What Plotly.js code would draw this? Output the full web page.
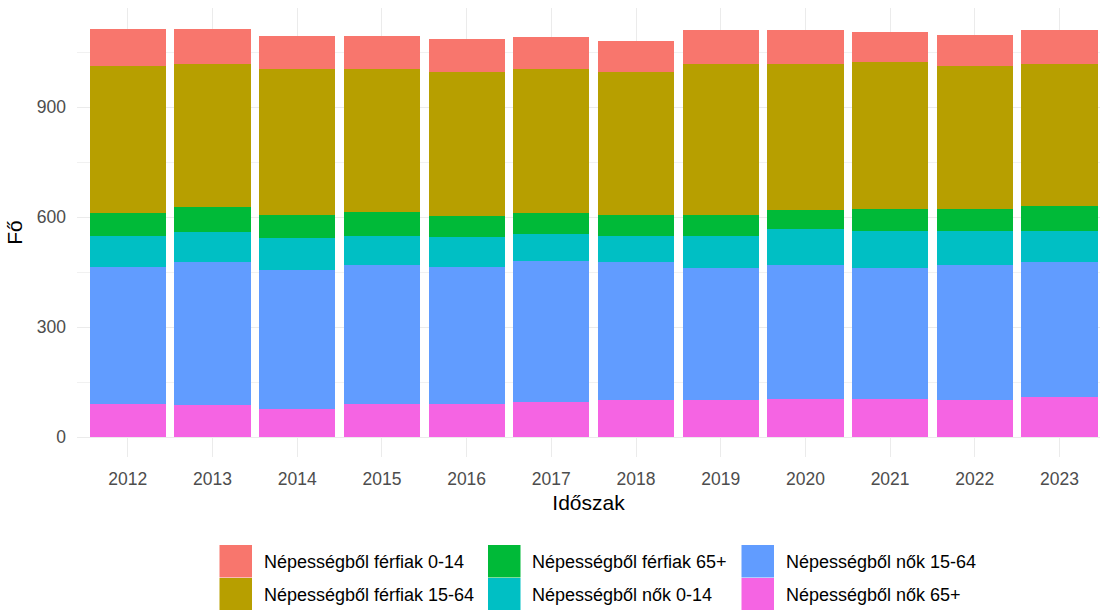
<!DOCTYPE html>
<html>
<head>
<meta charset="utf-8">
<script src="https://cdn.plot.ly/plotly-3.0.1.min.js"></script>
<style>
  html, body { margin: 0; padding: 0; background: #ffffff; }
  #chart { width: 1100px; height: 610px; }
</style>
</head>
<body>
<div id="chart"></div>
<script>
// ---- Data ----
const years = ['2012','2013','2014','2015','2016','2017','2018','2019','2020','2021','2022','2023'];

const seriesNames = [
  'Népességből férfiak 0-14',
  'Népességből férfiak 15-64',
  'Népességből férfiak 65+',
  'Népességből nők 0-14',
  'Népességből nők 15-64',
  'Népességből nők 65+'
];

const ferfiak0_14  = [102, 95, 90, 90, 91, 87, 86, 91, 91, 82, 86, 91];
const ferfiak15_64 = [400, 392, 397, 389, 392, 393, 389, 412, 400, 400, 388, 387];
const ferfiak65    = [62, 68, 64, 65, 58, 57, 57, 57, 51, 61, 61, 69];
const nok0_14      = [85, 81, 86, 81, 81, 73, 73, 89, 99, 102, 94, 86];
const nok15_64     = [375, 391, 379, 379, 375, 384, 375, 359, 364, 356, 367, 368];
const nok65        = [89, 86, 77, 89, 89, 96, 101, 101, 104, 104, 101, 108];

const colors = ['#F8766D', '#B79F00', '#00BA38', '#00BFC4', '#619CFF', '#F564E3'];

// ---- Build traces (stacked bottom -> top: nők 65+ ... férfiak 0-14) ----
const valuesBySeries = [ferfiak0_14, ferfiak15_64, ferfiak65, nok0_14, nok15_64, nok65];
const stackOrder = [5, 4, 3, 2, 1, 0];
const traces = stackOrder.map(i => ({
  type: 'bar',
  x: years,
  y: valuesBySeries[i],
  name: seriesNames[i],
  marker: { color: colors[i], line: { width: 0 } },
  showlegend: false,
  hoverinfo: 'x+y+name'
}));

// ---- Layout geometry ----
const W = 1100, H = 610;
const M = { l: 77, r: 0, t: 8, b: 153 };
const pw = W - M.l - M.r, ph = H - M.t - M.b;
const px2x = px => (px - M.l) / pw;
const py2y = py => (H - M.b - py) / ph;

// ---- Custom legend (3 columns, filled by column as in ggplot) ----
const colKeyX = [219.5, 488, 741.5];
const rowKeyY = [545, 578];
const keySize = 32.5;
const shapes = [];
const annotations = [];
seriesNames.forEach((name, i) => {
  const col = Math.floor(i / 2), row = i % 2;
  const x0 = colKeyX[col], y0 = rowKeyY[row];
  shapes.push({
    type: 'rect', xref: 'paper', yref: 'paper',
    x0: px2x(x0), x1: px2x(x0 + keySize),
    y0: py2y(y0 + keySize), y1: py2y(y0),
    fillcolor: colors[i], line: { width: 0 }, layer: 'above'
  });
  annotations.push({
    xref: 'paper', yref: 'paper',
    x: px2x(x0 + 42), y: py2y(y0 + keySize / 2 + 1),
    xanchor: 'left', yanchor: 'middle',
    text: name, showarrow: false,
    font: { family: 'Liberation Sans, Arial, sans-serif', size: 18, color: '#000000' }
  });
});

const layout = {
  width: W, height: H,
  margin: M,
  paper_bgcolor: '#ffffff',
  plot_bgcolor: '#ffffff',
  barmode: 'stack',
  bargap: 0.1,
  showlegend: false,
  font: { family: 'Liberation Sans, Arial, sans-serif' },
  xaxis: {
    type: 'category',
    range: [-0.6, 11.478],
    showgrid: true, gridcolor: '#ebebeb', gridwidth: 1,
    zeroline: false, showline: false, ticks: '',
    tickfont: { size: 17.5, color: '#4d4d4d' },
    ticklabelstandoff: 9,
    title: { text: 'Időszak', font: { size: 21, color: '#000000' }, standoff: 7 },
    automargin: false, fixedrange: true
  },
  yaxis: {
    range: [-54.5, 1170],
    tickvals: [0, 300, 600, 900],
    ticktext: ['0', '300', '600', '900'],
    showgrid: true, gridcolor: '#ebebeb', gridwidth: 1,
    minor: { tickvals: [150, 450, 750, 1050], showgrid: true, gridcolor: '#f1f1f1', gridwidth: 1 },
    zeroline: false, showline: false, ticks: '',
    tickfont: { size: 17.5, color: '#4d4d4d' },
    ticklabelstandoff: 10,
    title: { text: 'Fő', font: { size: 21, color: '#000000' }, standoff: 8 },
    automargin: false, fixedrange: true
  },
  shapes: shapes,
  annotations: annotations
};

Plotly.newPlot('chart', traces, layout, { displayModeBar: false, staticPlot: true });
</script>
</body>
</html>
